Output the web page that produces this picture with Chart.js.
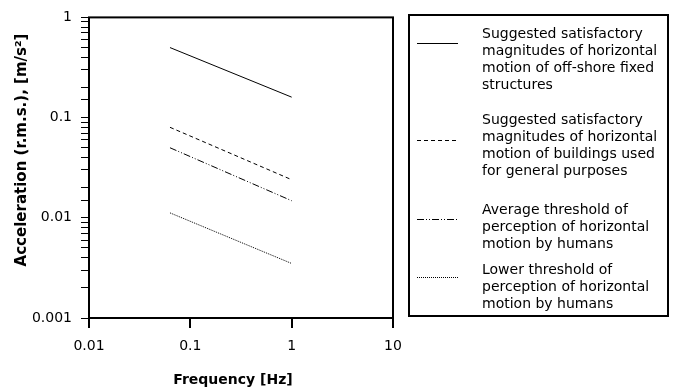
<!DOCTYPE html>
<html>
<head>
<meta charset="utf-8">
<script src="https://cdn.jsdelivr.net/npm/chart.js@4.4.1/dist/chart.umd.min.js"></script>
<style>
  html, body { margin: 0; padding: 0; background: #fff; }
  #chart { display: block; }
</style>
</head>
<body>
<canvas id="chart" width="676" height="391"></canvas>
<script>
// frequency range covered by every curve [Hz]
const freqs = [0.063, 1]

// acceleration at start and end of each curve [m/s²]
const offshore = [0.5, 0.16]
const buildings = [0.08, 0.024]
const averageThreshold = [0.05, 0.0148]
const lowerThreshold = [0.0112, 0.0035]

const xTickValues = [0.01, 0.1, 1, 10]
const xTickLabels = ['0.01', '0.1', '1', '10']
const yTickValues = [0.001, 0.01, 0.1, 1]
const yTickLabels = ['0.001', '0.01', '0.1', '1']

const legendLabels = [
  ['Suggested satisfactory', 'magnitudes of horizontal', 'motion of off-shore fixed', 'structures'],
  ['Suggested satisfactory', 'magnitudes of horizontal', 'motion of buildings used', 'for general purposes'],
  ['Average threshold of', 'perception of horizontal', 'motion by humans'],
  ['Lower threshold of', 'perception of horizontal', 'motion by humans']
]

const FONT = '"DejaVu Sans", Verdana, sans-serif'

const toPoints = (ys) => freqs.map((x, i) => ({ x, y: ys[i] }))

const series = [
  { data: offshore, dash: [] },
  { data: buildings, dash: [4, 3] },
  { data: averageThreshold, dash: [7, 2, 1, 2, 1, 2] },
  { data: lowerThreshold, dash: [1, 1] }
]

const isPow10 = (v) => Math.abs(Math.log10(v) - Math.round(Math.log10(v))) < 1e-6

// box, axis titles and the legend panel
const frame = {
  id: 'frame',
  afterDraw(chart) {
    const { ctx, chartArea: a } = chart
    ctx.save()
    ctx.strokeStyle = '#000'
    ctx.lineWidth = 2
    ctx.strokeRect(a.left, a.top, a.right - a.left, a.bottom - a.top)

    ctx.fillStyle = '#000'
    ctx.font = 'bold 14px ' + FONT
    ctx.textAlign = 'center'
    ctx.textBaseline = 'middle'
    ctx.fillText('Frequency [Hz]', 233, 380)
    ctx.save()
    ctx.translate(22, 150)
    ctx.rotate(-Math.PI / 2)
    ctx.font = 'bold 15px ' + FONT
    ctx.fillText('Acceleration (r.m.s.), [m/s²]', 0, 0)
    ctx.restore()

    // legend panel
    ctx.lineWidth = 2
    ctx.strokeRect(409, 15, 259, 301)
    const sampleY = [43, 140, 219, 277]
    const firstBaseline = [38, 124, 214, 274]
    ctx.font = '14px ' + FONT
    ctx.textAlign = 'left'
    ctx.textBaseline = 'alphabetic'
    legendLabels.forEach((lines, i) => {
      const ds = chart.data.datasets[i]
      ctx.beginPath()
      ctx.lineWidth = 1
      ctx.setLineDash(ds.borderDash)
      ctx.moveTo(417, sampleY[i] + 0.5)
      ctx.lineTo(458, sampleY[i] + 0.5)
      ctx.stroke()
      ctx.setLineDash([])
      lines.forEach((t, j) => ctx.fillText(t, 482, firstBaseline[i] + j * 17))
    })
    ctx.restore()
  }
}

new Chart(document.getElementById('chart'), {
  type: 'line',
  data: {
    datasets: series.map((s) => ({
      data: toPoints(s.data),
      borderColor: '#000',
      borderWidth: 1,
      borderDash: s.dash,
      pointRadius: 0,
      fill: false,
      tension: 0
    }))
  },
  options: {
    responsive: false,
    animation: false,
    devicePixelRatio: 1,
    layout: { padding: { left: 0, top: 15, right: 283, bottom: 0 } },
    plugins: { legend: { display: false }, tooltip: { enabled: false } },
    scales: {
      x: {
        type: 'logarithmic',
        min: 0.01,
        max: 10,
        border: { display: false },
        grid: { drawOnChartArea: false, drawTicks: true, tickLength: 10, color: '#000', lineWidth: 2 },
        afterBuildTicks: (scale) => { scale.ticks = xTickValues.map((value) => ({ value })) },
        afterFit: (scale) => { scale.height = 73 },
        ticks: {
          autoSkip: false,
          maxRotation: 0,
          padding: 10,
          color: '#000',
          font: { family: FONT, size: 14 },
          callback: (v) => xTickLabels[xTickValues.findIndex((t) => Math.abs(t - v) < t * 1e-6)] ?? ''
        }
      },
      y: {
        type: 'logarithmic',
        min: 0.001,
        max: 1,
        border: { display: false },
        grid: { drawOnChartArea: false, drawTicks: true, tickLength: 8, color: '#000', lineWidth: 1 },
        afterFit: (scale) => { scale.width = 89 },
        ticks: {
          autoSkip: false,
          padding: 9,
          color: '#000',
          font: { family: FONT, size: 14 },
          callback: (v) => isPow10(v) ? yTickLabels[yTickValues.findIndex((t) => Math.abs(t - v) < t * 1e-6)] : ''
        }
      }
    }
  },
  plugins: [frame]
})
</script>
</body>
</html>
